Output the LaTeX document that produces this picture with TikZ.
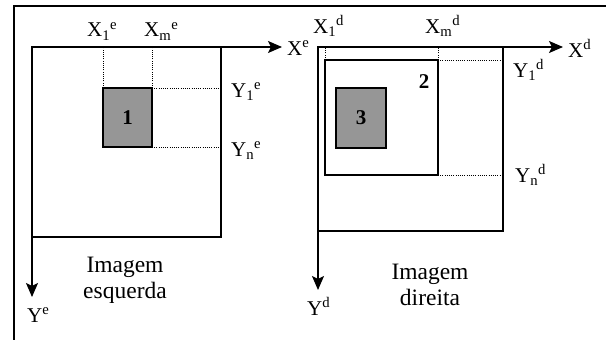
\documentclass[tikz,border=0pt]{standalone}
\usepackage{fontspec}
\setmainfont{Liberation Serif}
\usetikzlibrary{arrows.meta}
\tikzset{
  frameline/.style={line width=2pt},
  boxline/.style={draw, line width=1.5pt, inner sep=0pt, outer sep=0pt, anchor=north west},
  graybox/.style={boxline, fill={rgb,255:red,150;green,150;blue,150}},
  axis/.style={line width=1.5pt, -{Stealth[length=14pt,width=12pt,inset=3pt]}},
  dotline/.style={line width=1pt, dash pattern=on 1pt off 1.2pt},
  lbl/.style={inner sep=0pt, anchor=base west, font=\fontsize{21}{24}\selectfont},
  captext/.style={inner sep=0pt, align=center, anchor=base, font=\fontsize{23.5}{26}\selectfont},
  num/.style={inner sep=0pt, font=\fontsize{21}{24}\selectfont\bfseries}
}
\begin{document}
\begin{tikzpicture}[x=1pt,y=-1pt]
\useasboundingbox (0,0) rectangle (606,340);
% outer frame (only top and left visible)
\coordinate (F) at (14,6);
\coordinate (FR) at (608,6);
\coordinate (FB) at (14,342);
\draw[frameline] (FR) -- (F) -- (FB);

% left image
\node[boxline, minimum width=189pt, minimum height=190pt] (L) at (32,47) {};
\node[graybox, minimum width=49pt, minimum height=59pt] (g1) at (103,88) {};
\node[num] (n1) at (g1.center) {1};
\coordinate (xe) at (282,47);
\coordinate (ye) at (32,297);
\draw[axis] (L.north west) -- (xe);
\draw[axis] (L.north west) -- (ye);
\draw[dotline] (g1.north west) -- (g1.north west |- L.north);
\draw[dotline] (g1.north east) -- (g1.north east |- L.north);
\draw[dotline] (g1.north east) -- (g1.north east -| L.east);
\draw[dotline] (g1.south east) -- (g1.south east -| L.east);

\node[lbl] (x1e) at (87,37) {X\textsubscript{1}\textsuperscript{e}};
\node[lbl] (xme) at (144,37) {X\textsubscript{m}\textsuperscript{e}};
\node[lbl] (Xe) at (287,55) {X\textsuperscript{e}};
\node[lbl] (y1e) at (231,97) {Y\textsubscript{1}\textsuperscript{e}};
\node[lbl] (yne) at (231,156) {Y\textsubscript{n}\textsuperscript{e}};
\node[lbl] (Ye) at (27,322) {Y\textsuperscript{e}};
\node[captext] (ce) at (125,298) {Imagem\\esquerda};

% right image
\node[boxline, minimum width=185pt, minimum height=184pt] (R) at (318,47) {};
\node[boxline, minimum width=113pt, minimum height=115pt] (b2) at (325,60) {};
\node[num, anchor=base] (n2) at (424,88) {2};
\node[graybox, minimum width=50pt, minimum height=60pt] (g3) at (336,88) {};
\node[num] (n3) at (g3.center) {3};
\coordinate (xd) at (563,47);
\coordinate (yd) at (318,290);
\draw[axis] (R.north west) -- (xd);
\draw[axis] (R.north west) -- (yd);
\draw[dotline] (b2.north west) -- (b2.north west |- R.north);
\draw[dotline] (b2.north east) -- (b2.north east |- R.north);
\draw[dotline] (b2.north east) -- (b2.north east -| R.east);
\draw[dotline] (b2.south east) -- (b2.south east -| R.east);

\node[lbl] (x1d) at (313,33) {X\textsubscript{1}\textsuperscript{d}};
\node[lbl] (xmd) at (425,33) {X\textsubscript{m}\textsuperscript{d}};
\node[lbl] (Xd) at (568,57) {X\textsuperscript{d}};
\node[lbl] (y1d) at (513,77) {Y\textsubscript{1}\textsuperscript{d}};
\node[lbl] (ynd) at (515,182) {Y\textsubscript{n}\textsuperscript{d}};
\node[lbl] (Yd) at (307,315) {Y\textsuperscript{d}};
\node[captext] (cd) at (430,305) {Imagem\\direita};
\end{tikzpicture}
\end{document}
